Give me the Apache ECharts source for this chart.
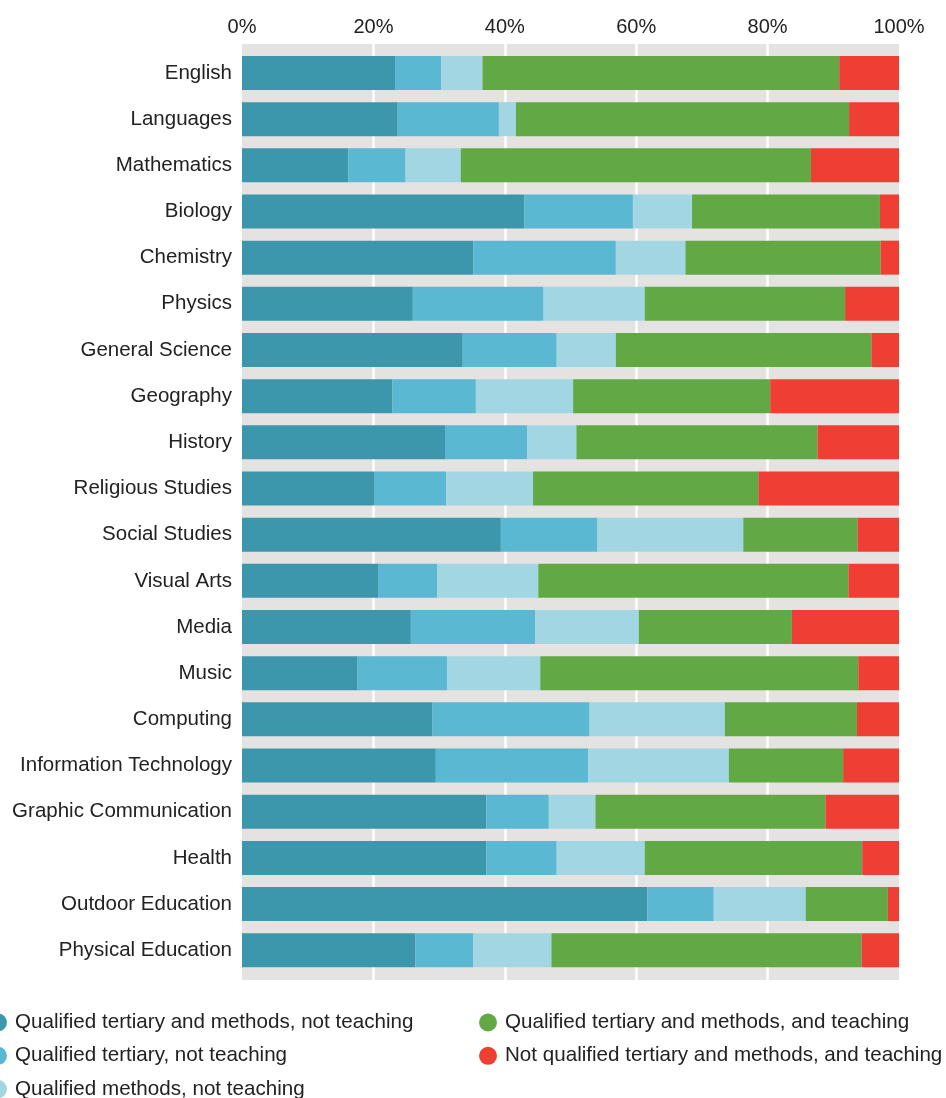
<!DOCTYPE html>
<html>
<head>
<meta charset="utf-8">
<script src="https://cdn.jsdelivr.net/npm/echarts@6/dist/echarts.min.js"></script>
<style>
html,body{margin:0;padding:0;background:#fff;}
#chart{width:946px;height:1098px;}
</style>
</head>
<body>
<div id="chart"></div>
<script>
const categories = ["English","Languages","Mathematics","Biology","Chemistry","Physics","General Science","Geography","History","Religious Studies","Social Studies","Visual Arts","Media","Music","Computing","Information Technology","Graphic Communication","Health","Outdoor Education","Physical Education"];

const seriesNames = [
  "Qualified tertiary and methods, not teaching",
  "Qualified tertiary, not teaching",
  "Qualified methods, not teaching",
  "Qualified tertiary and methods, and teaching",
  "Not qualified tertiary and methods, and teaching"
];

const qualBothNotTeaching = [23.3,23.7,16.2,43.0,35.2,26.0,33.6,22.9,30.9,20.2,39.4,20.8,25.7,17.6,29.0,29.5,37.2,37.2,61.7,26.4];
const qualTertiaryNotTeaching = [7.0,15.4,8.7,16.5,21.7,19.9,14.3,12.7,12.5,10.9,14.7,8.9,18.9,13.6,23.9,23.2,9.5,10.7,10.1,8.8];
const qualMethodsNotTeaching = [6.3,2.6,8.4,9.0,10.6,15.4,9.0,14.8,7.5,13.2,22.2,15.4,15.8,14.2,20.6,21.4,7.1,13.4,14.0,11.9];
const qualBothTeaching = [54.3,50.7,53.3,28.6,29.7,30.5,38.9,30.0,36.7,34.3,17.4,47.2,23.3,48.4,20.1,17.4,35.0,33.1,12.5,47.2];
const notQualTeaching = [9.1,7.6,13.4,2.9,2.8,8.2,4.2,19.6,12.4,21.4,6.3,7.7,16.3,6.2,6.4,8.5,11.2,5.6,1.7,5.7];

const tickValues = [0,20,40,60,80,100];

const colors = ["#3d97ac","#5bb8d2","#a3d6e3","#62a845","#ef3e34"];
const dataArrays = [qualBothNotTeaching, qualTertiaryNotTeaching, qualMethodsNotTeaching, qualBothTeaching, notQualTeaching];

const FONT = "Liberation Sans, Arial, sans-serif";

const chart = echarts.init(document.getElementById('chart'), null, {renderer:'canvas'});

const series = seriesNames.map((name, i) => ({
  name: name,
  type: 'bar',
  stack: 'total',
  xAxisIndex: 1,
  yAxisIndex: 1,
  barWidth: 34,
  itemStyle: {color: colors[i]},
  emphasis: {disabled: true},
  data: dataArrays[i]
}));

const legendText = {fontSize: 20.6, color: '#222', padding: [0,0,0,3], fontFamily: FONT};
// legend placement: [left, top] per series (two columns)
const legendPos = [[-11, 1012], [-11, 1045.3], [-11, 1078.6], [479, 1012], [479, 1045.3]];
const legends = seriesNames.map((name, i) => ({
  orient: 'vertical', left: legendPos[i][0], top: legendPos[i][1], padding: 0,
  data: [name],
  icon: 'circle', itemWidth: 18, itemHeight: 18,
  selectedMode: false,
  textStyle: legendText
}));

const option = {
  animation: false,
  backgroundColor: '#ffffff',
  textStyle: {fontFamily: FONT},
  grid: [
    {left: 242, width: 657, top: 44, height: 936, show: true, backgroundColor: '#e4e3e1', borderWidth: 0, containLabel: false},
    {left: 242, width: 657, top: 49.9, height: 923.4, containLabel: false}
  ],
  xAxis: [
    {
      gridIndex: 0, type: 'value', position: 'top',
      min: tickValues[0], max: tickValues[tickValues.length-1], interval: 20,
      axisLine: {show: false}, axisTick: {show: false},
      axisLabel: {formatter: '{value}%', fontSize: 20, color: '#222', margin: 7, fontFamily: FONT},
      splitLine: {show: true, showMinLine: false, showMaxLine: false, lineStyle: {color: '#ffffff', width: 2.5}}
    },
    {
      gridIndex: 1, type: 'value', min: 0, max: 100, show: false,
      splitLine: {show: false}
    }
  ],
  yAxis: [
    {gridIndex: 0, type: 'value', show: false, splitLine: {show: false}},
    {
      gridIndex: 1, type: 'category', data: categories, inverse: true,
      axisLine: {show: false}, axisTick: {show: false},
      axisLabel: {fontSize: 20.5, color: '#222', margin: 10, fontFamily: FONT},
      splitLine: {show: false}
    }
  ],
  legend: legends,
  series: series
};

chart.setOption(option);
</script>
</body>
</html>
